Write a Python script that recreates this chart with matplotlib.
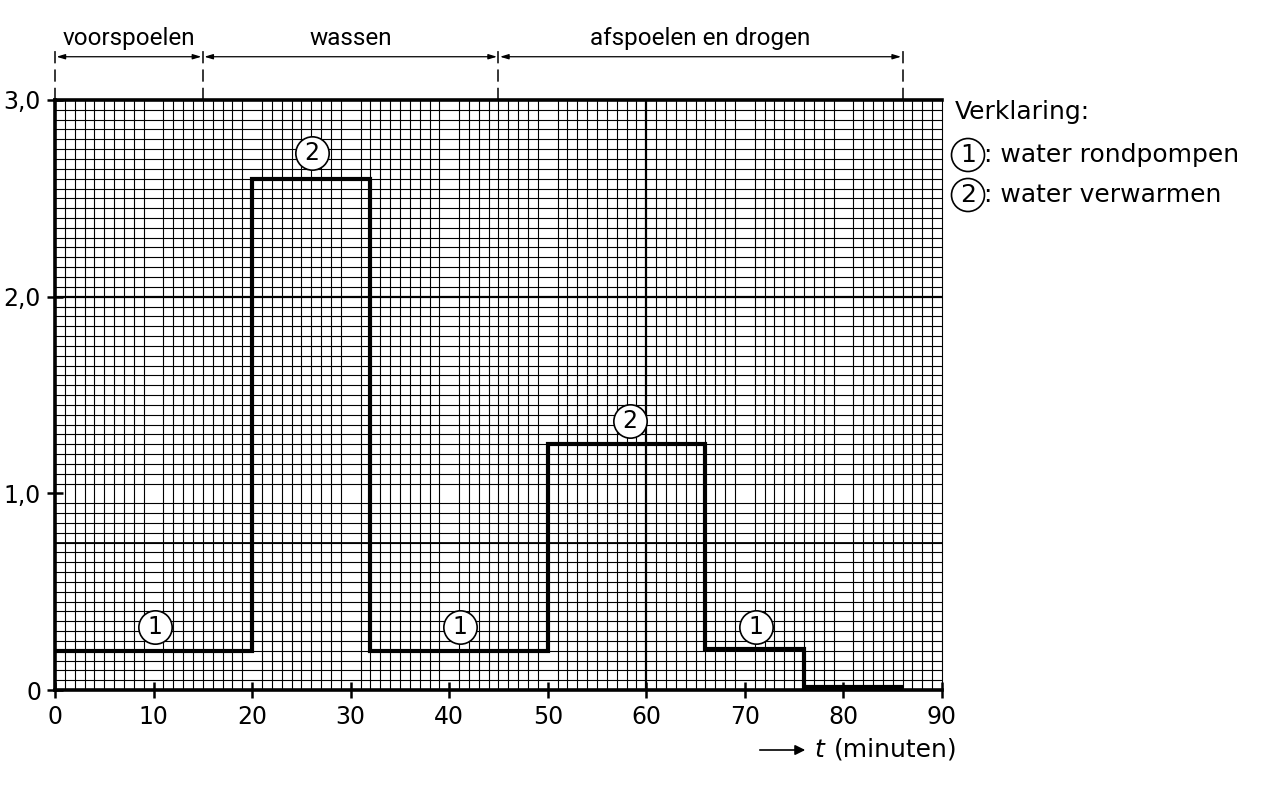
import numpy as np
import matplotlib
matplotlib.use("Agg")
import matplotlib.pyplot as plt
from matplotlib.ticker import MultipleLocator, FixedLocator

# step profile: edges in minutes, power level per interval
edges = [0, 20, 32, 50, 66, 76, 86]
levels = [0.2, 2.6, 0.2, 1.25, 0.21, 0.015]

# circled labels (number, x, y)
marks = [("1", 10.1, 0.32), ("2", 26.1, 2.73), ("1", 41.1, 0.32),
         ("2", 58.3, 1.37), ("1", 71.1, 0.32)]

# phases along the top
phase_edges = [0, 15, 45, 86]
phase_names = ["voorspoelen", "wassen", "afspoelen en drogen"]

xticks = [0, 10, 20, 30, 40, 50, 60, 70, 80, 90]
yticks = [0, 1, 2, 3]
ylabels = ["0", "1,0", "2,0", "3,0"]

legend_lines = ["1", "2"]
legend_text = [": water rondpompen", ": water verwarmen"]

main_font = ["DejaVu Sans"]
narrow_font = ["Roboto", "DejaVu Sans"]
plt.rcParams['font.family'] = main_font

fig = plt.figure(figsize=(12.85, 7.9), dpi=100)
ax = fig.add_axes([55 / 1285, 1 - 690 / 790, 887 / 1285, 590 / 790])
ax.set_xlim(0, 90)
ax.set_ylim(0, 3.0)

# fine grid paper
ax.xaxis.set_minor_locator(MultipleLocator(1))
ax.yaxis.set_minor_locator(MultipleLocator(0.05))
ax.grid(which="minor", color="black", linewidth=0.8)
ax.tick_params(which="minor", length=0)
ax.set_axisbelow(True)
ax.axvline(60, color="black", linewidth=1.6, zorder=1)
ax.axhline(2.0, color="black", linewidth=1.6, zorder=1)
ax.axhline(0.75, color="black", linewidth=1.3, zorder=1)

for side in ["left", "bottom", "top"]:
    ax.spines[side].set_linewidth(2.6)
ax.spines["right"].set_linewidth(0.8)

ax.xaxis.set_major_locator(FixedLocator(xticks))
ax.yaxis.set_major_locator(FixedLocator(yticks))
ax.set_yticklabels(ylabels)
ax.tick_params(which="major", direction="inout", length=12, width=1.8,
               labelsize=17)
ax.tick_params(axis="x", pad=5)
ax.tick_params(axis="y", pad=4)

ax.stairs(levels, edges, baseline=None, color="black", linewidth=3.0, zorder=3)

for num, x, y in marks:
    ax.plot(x, y, "o", ms=24, mfc="white", mec="black", mew=1.2, zorder=4)
    ax.text(x, y, num, ha="center", va="center", fontsize=17, zorder=5)

# phase bar above the chart
for xe in phase_edges:
    ax.plot([xe, xe], [3.0, 3.28], color="black", linewidth=1.1,
            linestyle=(0, (8, 4)), clip_on=False)
for i, name in enumerate(phase_names):
    a, b = phase_edges[i], phase_edges[i + 1]
    ax.annotate("", xy=(b - 0.15, 3.22), xytext=(a + 0.15, 3.22),
                annotation_clip=False,
                arrowprops=dict(arrowstyle="<|-|>,head_length=0.5,head_width=0.15",
                                color="black", linewidth=0.9,
                                shrinkA=0, shrinkB=0))
    ax.text((a + b) / 2, 3.315, name, ha="center", va="center",
            fontsize=17.5, family=narrow_font)

# legend text on the right
fig.text(955 / 1285, 1 - 112 / 790, "Verklaring:", fontsize=18, va="center")
for i, (num, txt) in enumerate(zip(legend_lines, legend_text)):
    yy = 1 - (155 + 40 * i) / 790
    fig.text(968 / 1285, yy, num, fontsize=18, va="center", ha="center")
    fig.patches.append(matplotlib.patches.Ellipse(
        (968 / 1285, yy), 33 / 1285, 33 / 790, transform=fig.transFigure,
        facecolor="none", edgecolor="black", linewidth=1.2))
    fig.text(984 / 1285, yy, txt, fontsize=18, va="center")

# axis label with arrow
fig.add_artist(matplotlib.patches.FancyArrowPatch(
    (757 / 1285, 1 - 750 / 790), (808 / 1285, 1 - 750 / 790),
    transform=fig.transFigure, arrowstyle="-|>,head_length=6,head_width=3",
    color="black", linewidth=1.2))
fig.text(814 / 1285, 1 - 750 / 790, "t", fontsize=18, style="italic", va="center")
fig.text(834 / 1285, 1 - 750 / 790, "(minuten)", fontsize=18, va="center")

fig.savefig("out.png", dpi=100, facecolor="white")
